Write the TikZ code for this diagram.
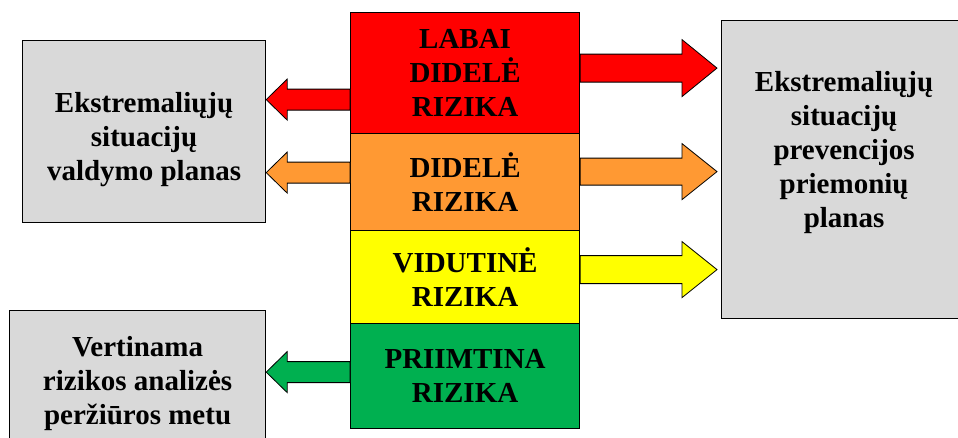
\documentclass[tikz,border=0pt]{standalone}
\usepackage{fontspec}
\setmainfont{Liberation Serif}
\usetikzlibrary{calc}

\definecolor{riskred}{RGB}{255,0,0}
\definecolor{riskorange}{RGB}{255,153,51}
\definecolor{riskyellow}{RGB}{255,255,0}
\definecolor{riskgreen}{RGB}{0,176,80}
\definecolor{plangray}{RGB}{217,217,217}

% #1 colour, #2 start, #3 end (x only), #4 half shaft, #5 half head, #6 head length
\newcommand{\blockarrow}[6]{%
\draw[arrowline,fill=#1] let \p1=#2, \p2=#3, \n1={ifthenelse(\x2>\x1,1,-1)} in
  (\x1,\y1+#4pt) -- (\x2-\n1*#6pt,\y1+#4pt) -- (\x2-\n1*#6pt,\y1+#5pt)
  -- (\x2,\y1) -- (\x2-\n1*#6pt,\y1-#5pt) -- (\x2-\n1*#6pt,\y1-#4pt)
  -- (\x1,\y1-#4pt) -- cycle;}

\begin{document}
\begin{tikzpicture}[x=1pt,y=-1pt,
  level/.style={draw,line width=1.2pt,anchor=north west,inner sep=0pt,
    minimum width=229pt,align=center,font=\bfseries\fontsize{29}{34}\selectfont},
  planbox/.style={draw,line width=1.2pt,fill=plangray,anchor=north west,inner sep=0pt},
  plantext/.style={align=center,inner sep=0pt,font=\bfseries\fontsize{29}{34}\selectfont},
  arrowline/.style={draw=black,line width=0.8pt}]

\useasboundingbox (0,0) rectangle (958,437);
\clip (0,0) rectangle (958,437);

% risk levels
\node[level,fill=riskred,minimum height=121pt] (vhigh) at (350,12) {LABAI\\DIDELĖ\\RIZIKA};
\node[level,fill=riskorange,minimum height=97pt] (high) at (350,133) {DIDELĖ\\RIZIKA};
\node[level,fill=riskyellow,minimum height=93pt] (medium) at (350,230) {VIDUTINĖ\\RIZIKA};
\node[level,fill=riskgreen,minimum height=105pt] (low) at (350,323) {PRIIMTINA\\RIZIKA};

% plans
\node[planbox,minimum width=243pt,minimum height=182pt] (control) at (22,40) {};
\node[plantext] at ([yshift=-8]control.center) {Ekstremaliųjų\\situacijų\\valdymo planas};

\node[planbox,minimum width=245pt,minimum height=298pt] (prevent) at (721,20) {};
\node[plantext,anchor=north] at ([yshift=-51]prevent.north) {Ekstremaliųjų\\situacijų\\prevencijos\\priemonių\\planas};

\node[planbox,minimum width=256pt,minimum height=145pt] (review) at (9,310) {};
\node[plantext] at (review.center) {Vertinama\\rizikos analizės\\peržiūros metu};

% arrows
\blockarrow{riskred}{([yshift=5]vhigh.east)}{([xshift=-4]prevent.west)}{14}{28.5}{35}
\blockarrow{riskorange}{([yshift=10.5]high.east)}{([xshift=-4]prevent.west)}{13.5}{28}{35}
\blockarrow{riskyellow}{([yshift=7.5]medium.east)}{([xshift=-4]prevent.west)}{14}{28}{35}

\blockarrow{riskred}{([yshift=-26.5]vhigh.west)}{(control.east)}{10.5}{20.5}{21}
\blockarrow{riskorange}{([yshift=9.5]high.west)}{(control.east)}{10.5}{20.5}{21}
\blockarrow{riskgreen}{([yshift=4]low.west)}{(review.east)}{10.5}{20.5}{21}

\end{tikzpicture}
\end{document}
